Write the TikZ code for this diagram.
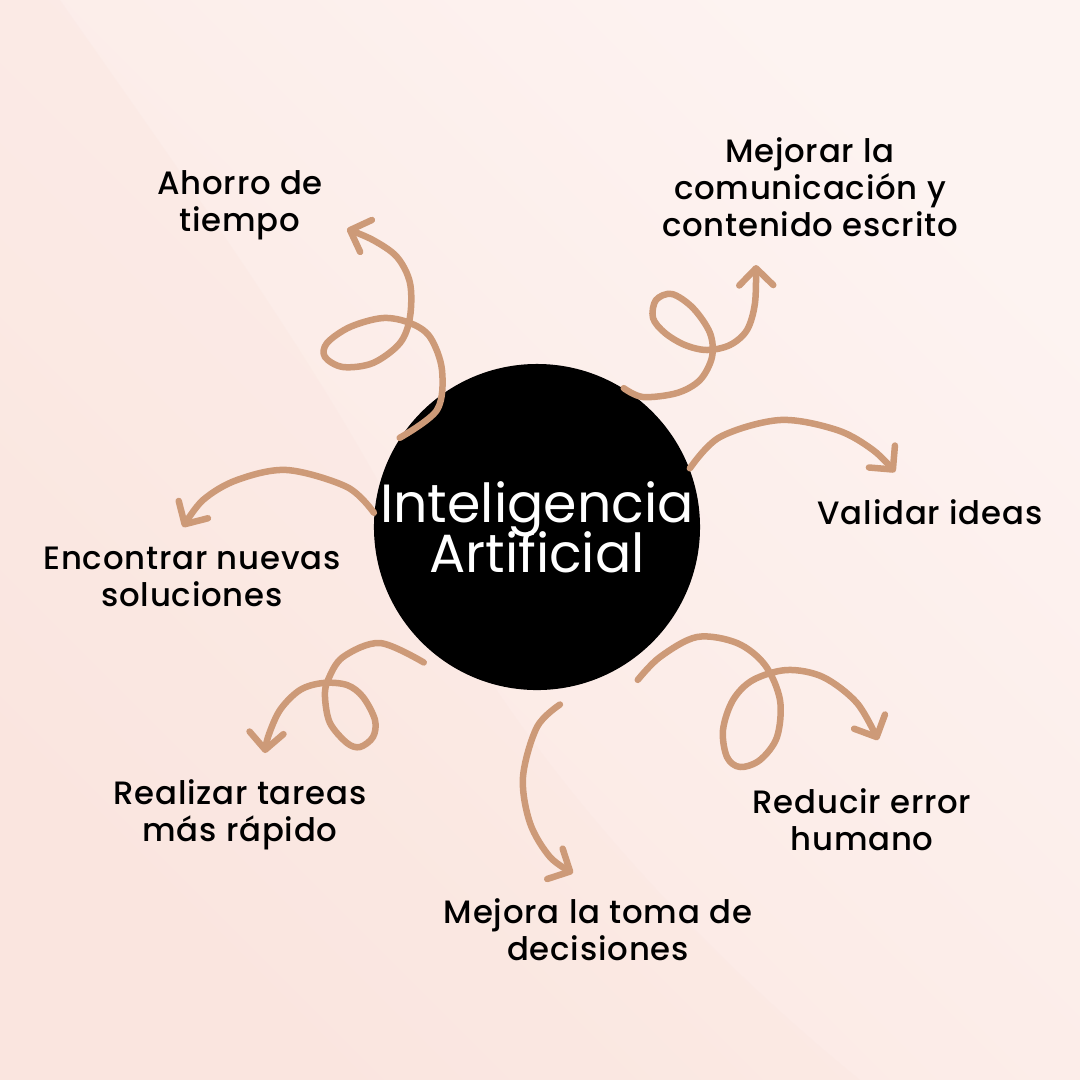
\documentclass[tikz,border=0pt]{standalone}
\usepackage{xcolor}
\usepackage{fontspec}
\setmainfont{Poppins}
\newfontfamily\lblfont{Poppins Medium}[LetterSpace=2.5]
\usepackage{tikz}
\usetikzlibrary{arrows.meta}
\definecolor{bgpink}{HTML}{FDF3F1}
\definecolor{bgdeep}{HTML}{FBE7E1}
\definecolor{washpink}{HTML}{FAE0D8}
\definecolor{curlbrown}{HTML}{CD9A78}
\newcommand{\hubfont}{\fontsize{15.3}{14.2}\selectfont\setlength{\lineskiplimit}{-20pt}}

\begin{document}
\begin{tikzpicture}[
    x=0.1mm, y=-0.1mm,
    hub/.style={
        circle, fill=black, minimum size=32.4mm, inner sep=0,
        text=white, align=center, font=\hubfont
    },
    lbl/.style={
        align=center, inner sep=0,
        font=\lblfont\fontsize{9.2}{10.5}\selectfont
    },
    curl/.style={
        draw=curlbrown, line width=0.65mm, line cap=round, line join=round,
        -{Straight Barb[length=1.7mm, width=3.4mm, round]}
    }
]
    \shade[left color=bgdeep, right color=bgpink, shading angle=135] (0,0) rectangle (1080,1080);
    \fill[washpink, opacity=0.18] (60,0) .. controls (200,200) and (330,380) .. (420,560)
        .. controls (520,760) and (700,950) .. (860,1080) -- (0,1080) -- (0,0) -- cycle;
    \useasboundingbox (0,0) rectangle (1080,1080);

    \node[hub] (ia) at (537,527) {Inteligencia\\Artificial};

    \node[lbl] (ahorro) at (240,205) {Ahorro de\\tiempo};
    \node[lbl] (mejorar) at (810,187) {Mejorar la\\comunicación y\\contenido escrito};
    \node[lbl] (validar) at (930,512) {Validar ideas};
    \node[lbl] (encontrar) at (192,577) {Encontrar nuevas\\soluciones};
    \node[lbl] (realizar) at (240,815) {Realizar tareas\\más rápido};
    \node[lbl] (mejora) at (598,930) {Mejora la toma de\\decisiones};
    \node[lbl] (reducir) at (862,820) {Reducir error\\humano};

    \coordinate (tipA) at (347,229);
    \coordinate (tipB) at (756,265);
    \coordinate (tipC) at (895,472);
    \coordinate (tipD) at (183,527);
    \coordinate (tipE) at (265,753);
    \coordinate (tipF) at (573,873);
    \coordinate (tipG) at (878,740);

    \draw[curl] plot[smooth, tension=0.55] coordinates {(ia.147) (437,410) (442,370) (430,337) (410,323) (383,318) (350,327) (327,343) (325,357) (343,367) (373,363) (400,343) (410,317) (410,283) (397,257) (373,240) (tipA)};
    \draw[curl] plot[smooth, tension=0.55] coordinates {(ia.58) (643,397) (677,393) (700,380) (712,357) (710,333) (693,308) (672,294) (656,300) (653,318) (665,333) (685,345) (707,350) (730,345) (747,330) (755,303) (tipB)};
    \draw[curl] plot[smooth, tension=0.55] coordinates {(ia.21) (720,437) (780,420) (837,430) (873,450) (tipC)};
    \draw[curl] plot[smooth, tension=0.55] coordinates {(ia.175) (347,487) (287,470) (237,480) (203,500) (tipD)};
    \draw[curl] plot[smooth, tension=0.55] coordinates {([shift={(-8,10)}]ia.230) (380,643) (343,657) (328,680) (325,697) (330,723) (347,743) (360,747) (373,737) (375,720) (363,697) (347,685) (323,683) (300,690) (280,710) (268,737) (tipE)};
    \draw[curl] plot[smooth, tension=0.55] coordinates {([shift={(3,15)}]ia.277) (537,727) (523,777) (530,823) (550,857) (tipF)};
    \draw[curl] plot[smooth, tension=0.55] coordinates {([shift={(14,14)}]ia.302) (660,657) (697,637) (737,643) (765,665) (780,700) (777,737) (760,760) (740,767) (727,757) (723,730) (733,700) (753,680) (787,670) (823,677) (857,703) (tipG)};
\end{tikzpicture}
\end{document}
